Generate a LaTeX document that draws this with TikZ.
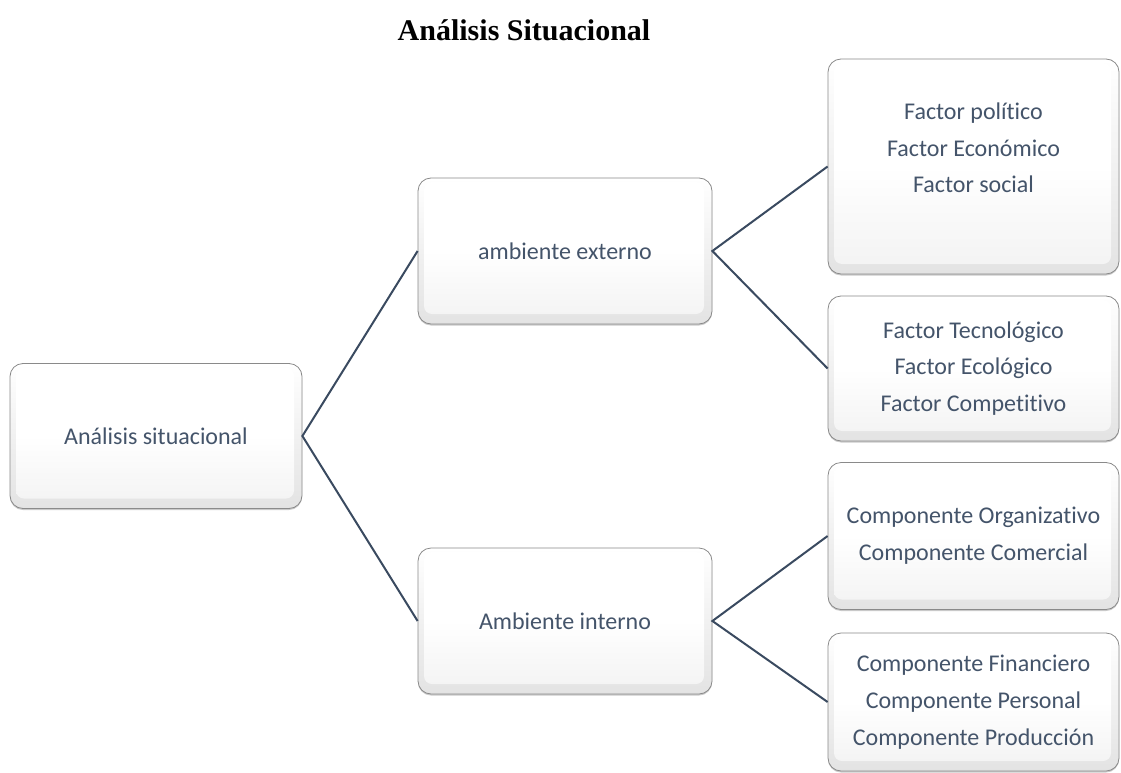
\documentclass[tikz,border=0pt]{standalone}
\usepackage{fontspec}
\usetikzlibrary{shadows}
\setmainfont{Carlito}[Ligatures=NoCommon]
\newfontfamily\titlefont{Liberation Serif}
\definecolor{txtc}{HTML}{44546A}
\definecolor{linec}{HTML}{3A4A60}
\definecolor{edgec}{HTML}{8A8A8A}
\tikzset{
  bevelbox/.style={
    shape=rectangle, rounded corners=13pt, draw=edgec, line width=0.8pt,
    top color=white, bottom color=gray!22,
    drop shadow={shadow xshift=0pt, shadow yshift=-1.5pt, opacity=0.35, fill=gray!80!black},
    inner sep=0pt, align=center, text=txtc,
    font={\fontsize{24}{36.7}\selectfont},
    path picture={
      \shade[rounded corners=8pt, top color=white, bottom color=gray!10, middle color=white]
        ([shift={(6,4)}]path picture bounding box.north west) rectangle
        ([shift={(-8,-10)}]path picture bounding box.south east);
    }
  },
  plaintext/.style={inner sep=0pt, align=center, text=txtc, font={\fontsize{24}{36.7}\selectfont}},
  conn/.style={draw=linec, line width=2pt}
}
\begin{document}
\begin{tikzpicture}[x=1pt,y=-1pt]
\useasboundingbox[fill=white] (0,0) rectangle (1121,773);
\node[font={\titlefont\bfseries\fontsize{30}{36}\selectfont}, text=black, inner sep=0pt] (title) at (524,30) {Análisis Situacional};
\node[bevelbox, minimum width=292pt, minimum height=145pt] (A) at (156,436) {Análisis situacional};
\node[bevelbox, minimum width=294pt, minimum height=146pt] (B) at (565,251) {ambiente externo};
\node[bevelbox, minimum width=294pt, minimum height=146pt] (C) at (565,621) {Ambiente interno};
\node[bevelbox, minimum width=291pt, minimum height=215pt] (D) at (973.5,166.5) {};
\node[plaintext] (Dtext) at (973.5,148) {Factor político\\Factor Económico\\Factor social};
\node[bevelbox, minimum width=291pt, minimum height=145pt] (E) at (973.5,368.5) {Factor Tecnológico\\Factor Ecológico\\Factor Competitivo};
\node[bevelbox, minimum width=291pt, minimum height=147pt] (F) at (973.5,536) {Componente Organizativo\\Componente Comercial};
\node[bevelbox, minimum width=291pt, minimum height=138pt] (G) at (973.5,702) {Componente Financiero\\Componente Personal\\Componente Producción};
\draw[conn] (B.west) -- (A.east) -- (C.west);
\draw[conn] (D.west) -- (B.east) -- (E.west);
\draw[conn] (F.west) -- (C.east) -- (G.west);
\end{tikzpicture}
\end{document}
